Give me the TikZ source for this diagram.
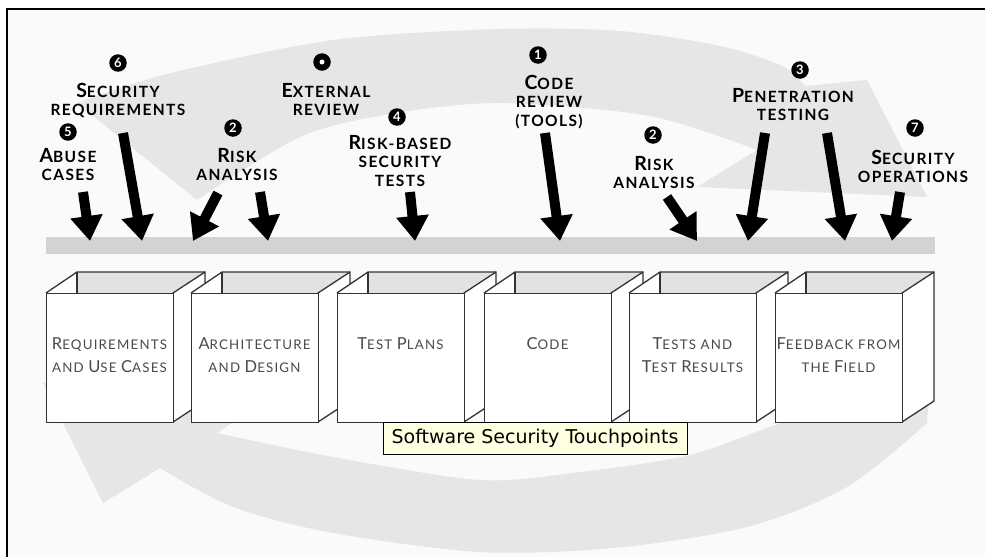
\documentclass[tikz,border=0pt]{standalone}
\usepackage{fontspec}
\usetikzlibrary{arrows.meta,calc}

\newfontfamily\toplblfont[LetterSpace=9]{Lato}
\newfontfamily\boxlblfont[LetterSpace=9]{Lato}
\newfontfamily\numfont{Lato}
\newfontfamily\tipfont{DejaVu Sans}

\definecolor{paper}{HTML}{FAFAFA}
\definecolor{band}{HTML}{E6E6E6}
\definecolor{barfill}{HTML}{D3D3D3}
\definecolor{wall}{HTML}{E2E2E2}
\definecolor{edge}{HTML}{333333}
\definecolor{boxink}{HTML}{4A4A4A}
\definecolor{tipfill}{HTML}{FFFFE1}

% large initial capital inside the small-cap style labels
\newcommand\TC[1]{{\fontsize{19.5}{19.5}\selectfont#1}}
\newcommand\KC[1]{{\fontsize{16.5}{16.5}\selectfont#1}}

\tikzset{
  toplabel/.style={align=center, inner sep=0pt, anchor=north,
    font=\toplblfont\bfseries\fontsize{15.5}{18.5}\selectfont},
  boxlabel/.style={align=center, inner sep=0pt, anchor=north, text=boxink,
    font=\boxlblfont\fontsize{13.3}{23}\selectfont},
  numdot/.style={circle, fill=black, text=white, inner sep=0pt, minimum size=17.5pt,
    font=\numfont\bfseries\fontsize{13}{13}\selectfont},
  blk/.style={line width=10pt, -{Triangle[width=31pt 0 0,length=25pt 0 0]}},
  face/.style={draw=edge, line width=1.3pt, fill=white, minimum width=127pt,
    minimum height=129pt, anchor=north west, inner sep=0pt},
  rim/.style={draw=edge, line width=1.3pt, line join=round},
}

% open box: name, left x of the front face, label
\newcommand\touchbox[3]{%
  \fill[white] (#2,293) -- ({#2+31},272) -- ({#2+31},293) -- cycle;
  \fill[wall] ({#2+31},272) -- ({#2+159},272) -- ({#2+127},293) -- ({#2+31},293) -- cycle;
  \filldraw[rim, fill=white] ({#2+127},293) -- ({#2+159},272) -- ({#2+159},401) -- ({#2+127},422) -- cycle;
  \draw[rim] (#2,293) -- ({#2+31},272) -- ({#2+159},272);
  \draw[rim] ({#2+31},272) -- ({#2+31},293);
  \node[face] (#1) at (#2,293) {};
  \node[boxlabel] (#1-t) at ({#2+63.5},337) {#3};
}

\begin{document}
\begin{tikzpicture}[x=1pt,y=-1pt]
\useasboundingbox (0,0) rectangle (985,557);
\fill[white] (0,0) rectangle (985,557);
\fill[paper] (7,9) rectangle (985,557);

% the big cycle arrow behind everything
\fill[band] (77,103)
  -- plot[smooth] coordinates {(77,103) (167,74) (333,40) (500,29) (620,31) (720,46) (782,66) (805,86)}
  -- (867,80) -- (927,197) -- (697,187) -- (757,150)
  -- plot[smooth] coordinates {(757,150) (650,116) (500,103) (390,114) (300,137) (197,200)}
  -- cycle;
\fill[band] (43,383) -- (103,503) -- (160,468)
  -- plot[smooth] coordinates {(160,468) (233,507) (333,533) (480,552) (613,548) (747,527) (847,487) (927,423)}
  -- (930,380)
  -- plot[smooth] coordinates {(930,380) (790,420) (690,455) (580,472) (480,480) (333,457) (217,433)}
  -- (265,400) -- cycle;

% frame
\draw[line width=2pt] (7,557) -- (7,9) -- (985,9);

% process bar
\fill[barfill] (46,237) rectangle (935,254);

% touchpoint labels
\node[toplabel] (l6) at (118,83) {\TC{S}ECURITY\\REQUIREMENTS};
\node[toplabel] (l5) at (68,148) {\TC{A}BUSE\\CASES};
\node[toplabel] (l0) at (326,83) {\TC{E}XTERNAL\\REVIEW};
\node[toplabel] (l2a) at (237,148) {\TC{R}ISK\\ANALYSIS};
\node[toplabel] (l4) at (400,135) {\TC{R}ISK-BASED\\SECURITY\\TESTS};
\node[toplabel] (l1) at (549,75) {\TC{C}ODE\\REVIEW\\(TOOLS)};
\node[toplabel] (l2b) at (654,156) {\TC{R}ISK\\ANALYSIS};
\node[toplabel] (l3) at (793,88) {\TC{P}ENETRATION\\TESTING};
\node[toplabel] (l7) at (913,150) {\TC{S}ECURITY\\OPERATIONS};

% numbered markers
\node[numdot] (n6) at (118,63) {6};
\node[numdot] (n5) at (68,132) {5};
\node[numdot] (n0) at (322,62) {};
\fill[white] (n0.center) circle (2.5pt);
\node[numdot] (n2a) at (233,128) {2};
\node[numdot] (n4) at (397,117) {4};
\node[numdot] (n1) at (538,55) {1};
\node[numdot] (n2b) at (653,135) {2};
\node[numdot] (n3) at (800,70) {3};
\node[numdot] (n7) at (915,128) {7};

% arrows into the bar
\coordinate (a5s) at (83,192);   \coordinate (a5e) at (90,241);
\coordinate (a6s) at (123,133);  \coordinate (a6e) at (142,241);
\coordinate (a2as) at (218,193); \coordinate (a2ae) at (193,241);
\coordinate (a2bs) at (260,192); \coordinate (a2be) at (268,241);
\coordinate (a4s) at (410,192);  \coordinate (a4e) at (415,241);
\coordinate (a1s) at (545,133);  \coordinate (a1e) at (560,241);
\coordinate (a2cs) at (667,197); \coordinate (a2ce) at (697,241);
\coordinate (a3as) at (765,133); \coordinate (a3ae) at (748,241);
\coordinate (a3bs) at (827,133); \coordinate (a3be) at (845,241);
\coordinate (a7s) at (900,192);  \coordinate (a7e) at (892,241);
\foreach \a in {a5,a6,a2a,a2b,a4,a1,a2c,a3a,a3b,a7}
  \draw[blk] (\a s) -- (\a e);

% lifecycle artifacts
\touchbox{req}{46}{\KC{R}EQUIREMENTS\\AND \KC{U}SE \KC{C}ASES}
\touchbox{arch}{191}{\KC{A}RCHITECTURE\\AND \KC{D}ESIGN}
\touchbox{plans}{337}{\KC{T}EST \KC{P}LANS}
\touchbox{code}{484}{\KC{C}ODE}
\touchbox{tests}{629}{\KC{T}ESTS AND\\\KC{T}EST \KC{R}ESULTS}
\touchbox{field}{775}{\KC{F}EEDBACK FROM\\THE \KC{F}IELD}

% tooltip
\node[draw=black, line width=1pt, fill=tipfill, minimum width=304pt, minimum height=32pt,
  inner sep=0pt, font=\tipfont\fontsize{19}{19}\selectfont] (tip) at (535,438)
  {Software Security Touchpoints};
\end{tikzpicture}
\end{document}
